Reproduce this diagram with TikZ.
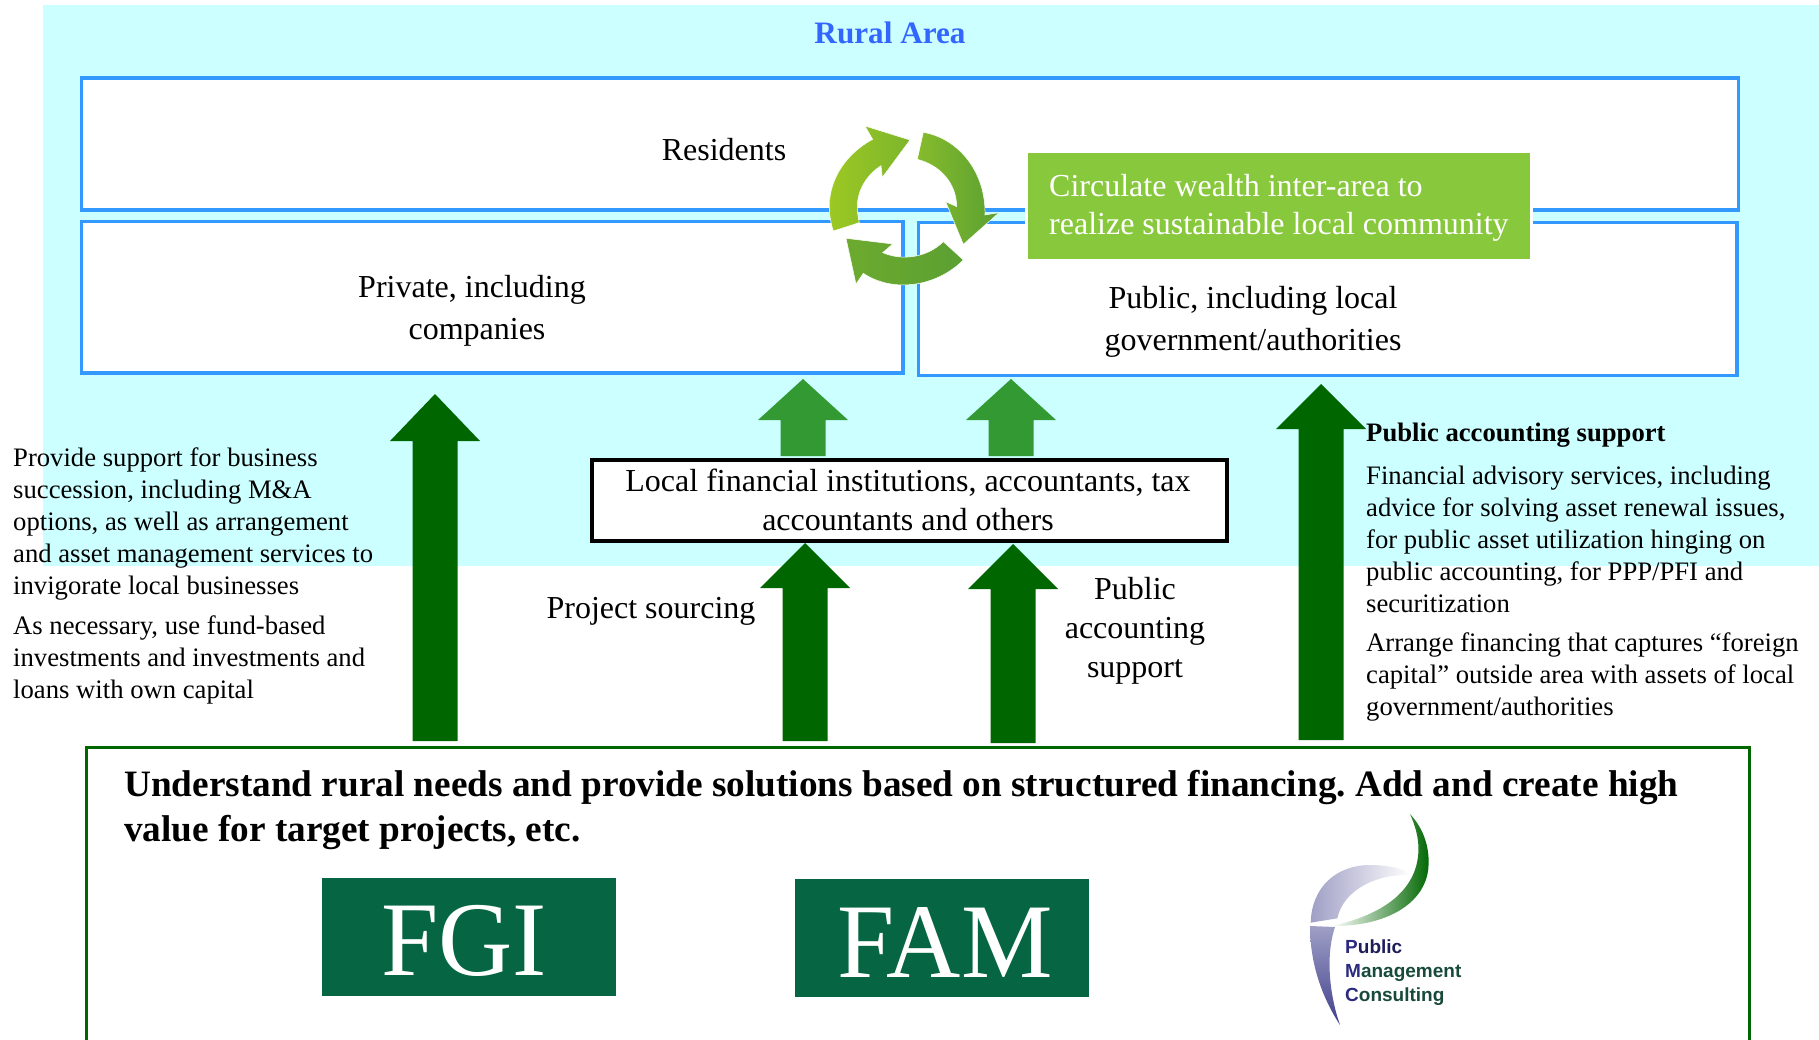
\documentclass[tikz,border=0pt]{standalone}
\usepackage{fontspec}
\setmainfont{Liberation Serif}
\newfontfamily\logosans{Liberation Sans}
\definecolor{cyanbg}{HTML}{CCFFFF}
\definecolor{boxblue}{HTML}{3399FF}
\definecolor{titleblue}{HTML}{3366FF}
\definecolor{darkarrow}{HTML}{006600}
\definecolor{midarrow}{HTML}{339933}
\definecolor{leafgreen}{HTML}{88C83C}
\definecolor{logogreen}{HTML}{066644}
\definecolor{pmcnavy}{HTML}{2B2A80}
\definecolor{pmcgreen}{HTML}{174A3A}
\definecolor{ringa}{HTML}{9CC823}
\definecolor{ringb}{HTML}{7DB52C}
\definecolor{ringc}{HTML}{86BB2C}
\definecolor{ringd}{HTML}{5BA032}
\definecolor{ringe}{HTML}{6DAA2F}
\newcommand{\fs}[2]{\fontsize{#1}{#2}\selectfont}
\newcommand{\blockarrow}[5]{\fill[#5] ({#1-45},#3) -- (#1,#2) -- ({#1+45},#3) -- ({#1+22.5},#3) -- ({#1+22.5},#4) -- ({#1-22.5},#4) -- ({#1-22.5},#3) -- cycle;}
\tikzset{
  areabox/.style={draw=boxblue,line width=3.5pt,fill=white,anchor=north west,inner sep=0pt},
  body/.style={inner sep=0pt,text=black,align=center,font=\fs{32}{42}},
  side/.style={inner sep=0pt,text=black,align=left,anchor=north west,font=\fs{26.67}{31.9}},
  logobox/.style={fill=logogreen,anchor=north west,inner sep=0pt},
  logotext/.style={text=white,inner sep=0pt,anchor=base,font=\fs{106}{110}},
  pmc/.style={inner sep=0pt,anchor=base west,font=\logosans\bfseries\fs{19}{24}},
}
\begin{document}
\frenchspacing
\begin{tikzpicture}[x=1pt,y=-1pt]
\useasboundingbox (0,0) rectangle (1819,1039);
\fill[cyanbg] (43,5) rectangle (1819,566);
\node[inner sep=0pt,text=titleblue,font=\bfseries\fs{31.2}{36}] (title) at (890,33) {Rural Area};
% area boxes
\node[areabox,minimum width=1657pt,minimum height=132pt] (residents) at (79.5,76) {};
\node[areabox,minimum width=821.5pt,minimum height=151.5pt] (private) at (79.5,219.5) {};
\node[areabox,minimum width=818.5pt,minimum height=153pt] (public) at (916.5,220.5) {};
\node[body] (restext) at (724,150) {Residents};
\node[body] (privtext) at (477,311) {Private, including\hspace*{10pt}\\companies};
\node[body] (pubtext) at (1253,322) {Public, including local\\government/authorities};
% green box
\node[draw=white,line width=3pt,fill=leafgreen,anchor=north west,minimum width=505pt,minimum height=109pt,inner sep=0pt] (circbox) at (1025,150) {};
\node[inner sep=0pt,text=white,align=left,anchor=west,font=\fs{32}{38.5}] (circtext) at (1049,208) {Circulate wealth inter-area to\\realize sustainable local community};
% recycle arrows
\begin{scope}[shift={(800,100)},x=0.3333pt,y=-0.3333pt]
\path[left color=ringa,right color=ringb,draw=white,line width=.5pt]
 (100,393) .. controls (92,368) and (88,345) .. (88,320) .. controls (88,235) and (140,160) .. (218,118) -- (195,78) -- (330,120) -- (247,232) -- (243,197)
 .. controls (200,225) and (172,270) .. (172,320) .. controls (172,337) and (174,352) .. (178,368) -- cycle;
\path[left color=ringc,right color=ringd,draw=white,line width=.5pt]
 (370,97) .. controls (475,115) and (558,215) .. (555,345) -- (597,338) -- (490,433) -- (437,305) -- (470,320)
 .. controls (470,250) and (420,195) .. (352,178) -- cycle;
\path[left color=ringe,right color=ringd,draw=white,line width=.5pt]
 (490,480) .. controls (410,560) and (280,580) .. (190,520) -- (168,552) -- (138,415) -- (278,432) -- (248,458)
 .. controls (310,485) and (385,470) .. (430,425) -- cycle;
\end{scope}
% block arrows
\blockarrow{435}{394}{441}{741}{darkarrow}
\blockarrow{803}{379}{420}{456}{midarrow}
\blockarrow{1011}{379}{420}{456}{midarrow}
\blockarrow{805}{543}{588}{741}{darkarrow}
\blockarrow{1013}{544}{589}{743}{darkarrow}
\blockarrow{1321}{384}{429}{740}{darkarrow}
% central box
\node[draw=black,line width=3.5pt,fill=white,anchor=north west,minimum width=635pt,minimum height=81pt,inner sep=0pt] (finbox) at (590,458) {};
\node[body,font=\fs{32}{39}] (fintext) at (908,500) {Local financial institutions, accountants, tax\\accountants and others};
% side labels
\node[side] (left1) at (13,448) {Provide support for business\\succession, including M\&A\\options, as well as arrangement\\and asset management services to\\invigorate local businesses};
\node[side] (left2) at (13,616) {As necessary, use fund-based\\investments and investments and\\loans with own capital};
\node[body] (project) at (651,611) {Project sourcing};
\node[body,font=\fs{32}{39}] (pubsup) at (1135,630.5) {Public\\accounting\\support};
\node[side,font=\bfseries\fs{26.67}{32}] (righthead) at (1366,423) {Public accounting support};
\node[side] (right1) at (1366,466) {Financial advisory services, including\\advice for solving asset renewal issues,\\for public asset utilization hinging on\\public accounting, for PPP/PFI and\\securitization};
\node[side] (right2) at (1366,633) {Arrange financing that captures “foreign\\capital” outside area with assets of local\\government/authorities};
% bottom box
\draw[darkarrow,line width=3pt] (86,1041) -- (86,747) -- (1749,747) -- (1749,1041);
\node[inner sep=0pt,align=left,anchor=north west,font=\bfseries\fs{37.25}{45}] (solution) at (124,770) {Understand rural needs and provide solutions based on structured financing. Add and create high\\value for target projects, etc.};
% logos
\node[logobox,minimum width=294pt,minimum height=118pt] (fgibox) at (322,878) {};
\node[logotext,xscale=.97,transform shape] (fgi) at (464,975) {FGI};
\node[logobox,minimum width=294pt,minimum height=118pt] (fambox) at (795,879) {};
\node[logotext,xscale=.97,transform shape] (fam) at (945,977) {FAM};
\begin{scope}[shift={(1260,790)},x=0.3333pt,y=-0.3333pt]
\path[left color=pmcnavy!45,right color=white]
 (152,398) .. controls (155,290) and (230,225) .. (330,225) .. controls (385,225) and (430,235) .. (455,255)
 .. controls (350,250) and (250,300) .. (232,385) -- cycle;
\path[left color=white,middle color=green!45!black!70!white,right color=green!40!black]
 (215,408) .. controls (320,385) and (465,330) .. (475,190) .. controls (478,145) and (465,105) .. (450,72)
 .. controls (495,120) and (510,180) .. (505,235) .. controls (495,340) and (380,410) .. (215,408) -- cycle;
\path[top color=pmcnavy!45,bottom color=pmcnavy!90]
 (150,408) -- (225,411) .. controls (195,500) and (210,620) .. (240,705) .. controls (185,620) and (150,520) .. (150,408) -- cycle;
\end{scope}
\node[pmc] (pmcp) at (1345,953) {\textcolor{pmcnavy}{P}\textcolor{pmcnavy!70!black}{ublic}};
\node[pmc] (pmcm) at (1345,977) {\textcolor{pmcnavy}{M}\textcolor{pmcgreen}{anagement}};
\node[pmc] (pmcc) at (1345,1001) {\textcolor{pmcnavy}{C}\textcolor{pmcgreen}{onsulting}};
\end{tikzpicture}
\end{document}
